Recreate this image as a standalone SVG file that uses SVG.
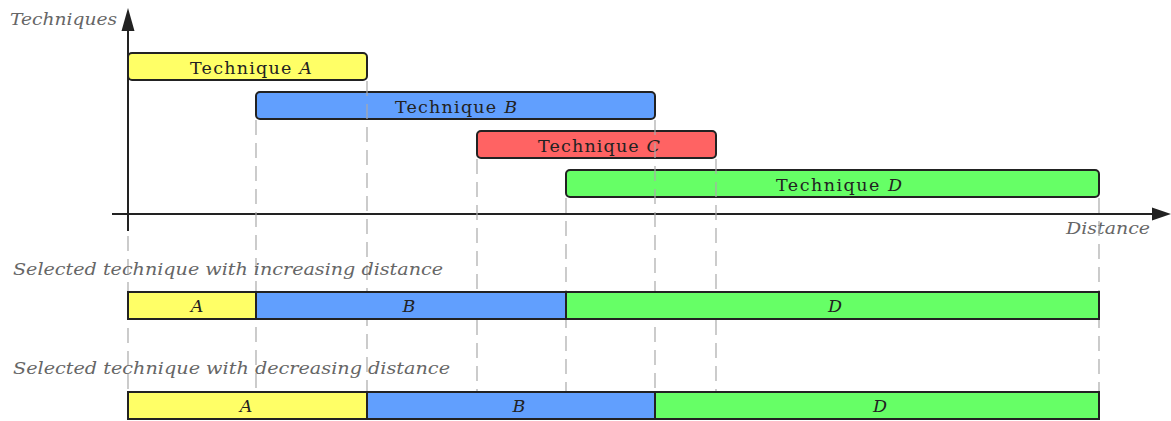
<svg xmlns="http://www.w3.org/2000/svg" width="1171" height="421" viewBox="0 0 1171 421">
<style>
.bar{stroke:#222;stroke-width:2}
.ya{fill:#ffff66}.bl{fill:#619ffe}.re{fill:#ff6363}.gr{fill:#66ff66}
.t{font-family:"DejaVu Serif","Liberation Serif",serif;font-size:17.5px;fill:#222;text-anchor:middle}
.i{font-style:italic}
.lab{font-family:"DejaVu Serif","Liberation Serif",serif;font-size:16px;font-style:italic;fill:#666}
.dash{stroke:#aaa;stroke-width:1.2;stroke-dasharray:15 8;fill:none}
.ax{stroke:#222;stroke-width:2;fill:none}
</style>
<rect width="1171" height="421" fill="#fff"/>
<g id="axes">
<line class="ax" x1="128" y1="28" x2="128" y2="231"/>
<polygon points="128,8 121.5,31 134.5,31" fill="#222"/>
<line class="ax" x1="112" y1="214" x2="1155" y2="214"/>
<polygon points="1171,214 1152,207.5 1152,220.5" fill="#222"/>
<text class="lab" x="10" y="25" textLength="107" lengthAdjust="spacingAndGlyphs">Techniques</text>
<text class="lab" x="1066" y="234" textLength="84" lengthAdjust="spacingAndGlyphs">Distance</text>
</g>
<g id="techA"><rect class="bar ya" x="128" y="53" width="239" height="27" rx="4"/><text class="t" x="251" y="74" textLength="122" lengthAdjust="spacing">Technique <tspan class="i">A</tspan></text></g>
<g id="techB"><rect class="bar bl" x="256" y="92" width="399" height="27" rx="4"/><text class="t" x="456" y="113" textLength="122" lengthAdjust="spacing">Technique <tspan class="i">B</tspan></text></g>
<g id="techC"><rect class="bar re" x="477" y="131" width="239" height="27" rx="4"/><text class="t" x="599" y="152" textLength="122" lengthAdjust="spacing">Technique <tspan class="i">C</tspan></text></g>
<g id="techD"><rect class="bar gr" x="566" y="170" width="533" height="27" rx="4"/><text class="t" x="839" y="191" textLength="126" lengthAdjust="spacing">Technique <tspan class="i">D</tspan></text></g>
<g id="connectors">
<line class="dash" x1="128" y1="236" x2="128" y2="392"/>
<line class="dash" x1="256" y1="120" x2="256" y2="392"/>
<line class="dash" x1="367" y1="81" x2="367" y2="392"/>
<line class="dash" x1="477" y1="159" x2="477" y2="392"/>
<line class="dash" x1="566" y1="198" x2="566" y2="392"/>
<line class="dash" x1="655" y1="120" x2="655" y2="392"/>
<line class="dash" x1="716" y1="159" x2="716" y2="392"/>
<line class="dash" x1="1099" y1="198" x2="1099" y2="392"/>
</g>
<text class="lab" x="13" y="275" textLength="430" lengthAdjust="spacingAndGlyphs">Selected technique with increasing distance</text>
<text class="lab" x="13" y="374" textLength="437" lengthAdjust="spacingAndGlyphs">Selected technique with decreasing distance</text>
<g id="inc">
<rect class="bar ya" x="128" y="292" width="128" height="27"/>
<rect class="bar bl" x="256" y="292" width="310" height="27"/>
<rect class="bar gr" x="566" y="292" width="533" height="27"/>
<text class="t i" x="197" y="312">A</text>
<text class="t i" x="409" y="312">B</text>
<text class="t i" x="835" y="312">D</text>
</g>
<g id="dec">
<rect class="bar ya" x="128" y="392" width="239" height="27"/>
<rect class="bar bl" x="367" y="392" width="288" height="27"/>
<rect class="bar gr" x="655" y="392" width="444" height="27"/>
<text class="t i" x="246" y="412">A</text>
<text class="t i" x="519" y="412">B</text>
<text class="t i" x="880" y="412">D</text>
</g>
</svg>
